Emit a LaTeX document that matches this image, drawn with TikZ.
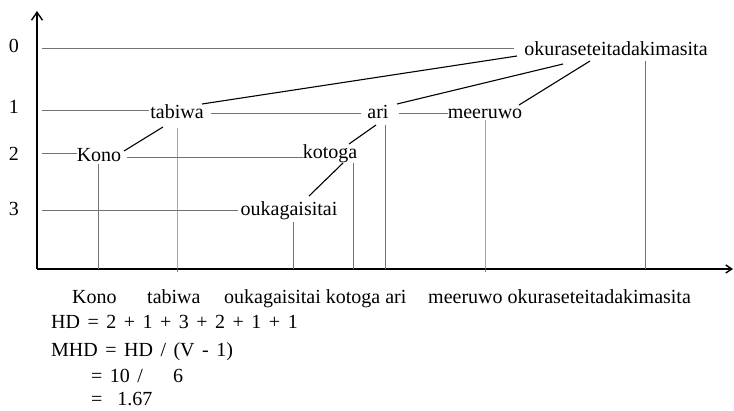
\documentclass[tikz,border=0pt]{standalone}
\usepackage{fontspec}
\setmainfont{Liberation Serif}
\usetikzlibrary{calc,arrows.meta}
\begin{document}
\begin{tikzpicture}[x=1pt,y=-1pt,
  word/.style={font=\fontsize{20}{24}\selectfont, inner sep=0pt, text height=13pt, text depth=0pt, anchor=base},
  lword/.style={word, anchor=base west},
  formula/.style={lword, execute at begin node={\spaceskip=7.5pt plus 1pt}},
  lvl/.style={draw=black!55, line width=0.7pt},
  conn/.style={draw=black, line width=1.1pt},
  axis/.style={draw=black, line width=1.4pt}
]
\useasboundingbox (0,0) rectangle (734,410);
% axes
\coordinate (origin) at (37,269);
\coordinate (ytop) at (37,11);
\coordinate (xend) at (733,269);
\draw[axis, -{Straight Barb[length=8pt,width=11pt]}] (origin) -- (ytop);
\draw[axis, -{Straight Barb[length=6pt,width=8pt]}] (origin) -- (xend);
% level labels
\node[word] (l0) at (14,52) {0};
\node[word] (l1) at (14,113) {1};
\node[word] (l2) at (14,160) {2};
\node[word] (l3) at (14,215) {3};
% words
\node[word] (okura) at (616,55) {okuraseteitadakimasita};
\node[word] (tabiwa) at (177,118) {tabiwa};
\node[word] (ari) at (378,118) {ari};
\node[word] (meeruwo) at (485,118) {meeruwo};
\node[word] (Kono) at (99,161) {Kono};
\node[word] (kotoga) at (330,158) {kotoga};
\node[word] (ouka) at (289,215) {oukagaisitai};
% level lines
\coordinate (s0) at (42,48);
\draw[lvl, shorten >=10pt] (s0) -- (s0 -| okura.west);
\coordinate (s1) at (42,110);
\draw[lvl, shorten >=1pt] (s1) -- (s1 -| tabiwa.west);
\coordinate (c1) at ($(tabiwa.east)+(7,1.5)$);
\draw[lvl, shorten >=6pt] (c1) -- (c1 -| ari.west);
\coordinate (c1b) at ($(ari.east)+(10,1.5)$);
\draw[lvl] (c1b) -- (c1b -| meeruwo.west);
\coordinate (s2) at (42,153);
\draw[lvl] (s2) -- (s2 -| Kono.west);
\coordinate (c2) at ($(Kono.east)+(6,3)$);
\draw[lvl] (c2) -- (c2 -| kotoga.west);
\coordinate (s3) at (42,210);
\draw[lvl, shorten >=2pt] (s3) -- (s3 -| ouka.west);
% vertical projection lines
\coordinate (vK) at ($(Kono.base)+(-1,3)$);
\draw[lvl] (vK) -- (vK |- origin);
\coordinate (vT) at ($(tabiwa.base)+(0,10)$);
\draw[lvl] (vT) -- (vT |- origin) -- ++(0,3);
\coordinate (vO) at ($(ouka.base)+(4,7)$);
\draw[lvl] (vO) -- (vO |- origin);
\coordinate (vKt) at ($(kotoga.base)+(23,5)$);
\draw[lvl] (vKt) -- (vKt |- origin);
\coordinate (vA) at ($(ari.base)+(7,7)$);
\draw[lvl] (vA) -- (vA |- origin);
\coordinate (vM) at ($(meeruwo.base)+(0,2)$);
\draw[lvl] (vM) -- (vM |- origin) -- ++(0,3);
\coordinate (vOk) at ($(okura.base)+(29,6)$);
\draw[lvl] (vOk) -- (vOk |- origin);
% dependency connectors
\draw[conn] ($(tabiwa.base)+(25,-14)$) -- ($(okura.base)+(-99,1)$);
\draw[conn] ($(ari.base)+(19,-14)$) -- ($(okura.base)+(-53,9)$);
\draw[conn] ($(meeruwo.base)+(34,-13)$) -- ($(okura.base)+(-26,6)$);
\draw[conn] ($(Kono.base)+(25,-10)$) -- ($(tabiwa.base)+(-14,9)$);
\draw[conn] ($(kotoga.base)+(19,-14)$) -- ($(ari.base)+(-2,7)$);
\draw[conn] ($(ouka.base)+(20,-19)$) -- ($(kotoga.base)+(13,5)$);
% bottom word order
\node[lword] (b1) at (72,303) {Kono};
\node[lword] (b2) at (147,303) {tabiwa};
\node[lword] (b3) at (224,303) {oukagaisitai kotoga ari};
\node[lword] (b4) at (428,303) {meeruwo okuraseteitadakimasita};
% formulas
\node[formula] (f1) at (51,328) {HD = 2 + 1 + 3 + 2 + 1 + 1};
\node[formula] (f2) at (51,356) {MHD = HD / (V - 1)};
\node[formula] (f3) at (91,382) {= 10 /\hspace{30pt}6};
\node[formula] (f4) at (91,405) {=\hspace{15pt}1.67};
\end{tikzpicture}
\end{document}
